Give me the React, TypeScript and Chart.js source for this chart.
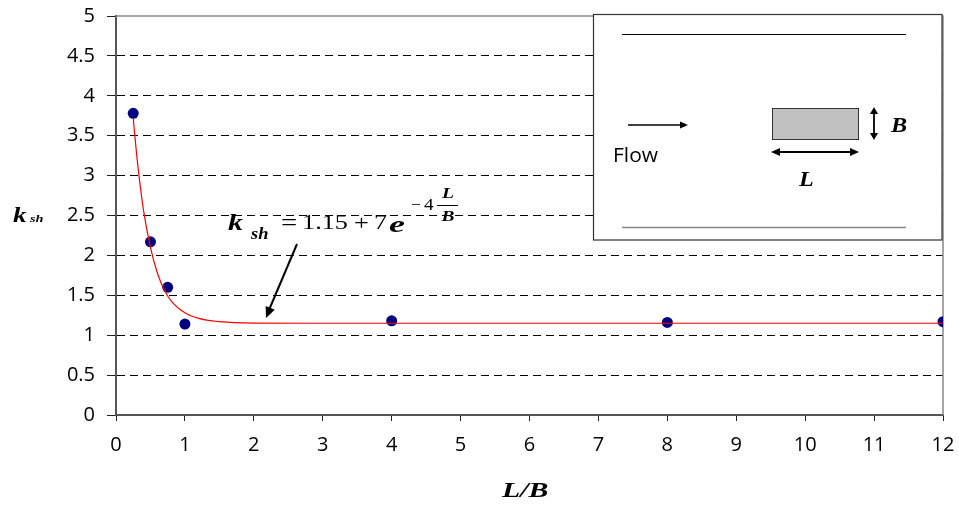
import React, { useEffect, useRef } from "react";
import { Chart, registerables } from "chart.js";

Chart.register(...registerables);

// Measured points (L/B, k_sh)
const pointX = [0.25, 0.5, 0.75, 1, 4, 8, 12];
const pointY = [3.78, 2.17, 1.6, 1.14, 1.18, 1.16, 1.17];

// Fitted curve
const curveX = [0.25, 0.3, 0.35, 0.4, 0.5, 0.6, 0.7, 0.8, 1.0, 1.2, 1.5, 2.0, 3.0, 12];
const curveY = [3.72, 3.26, 2.88, 2.56, 2.1, 1.78, 1.57, 1.43, 1.28, 1.21, 1.17, 1.152, 1.15, 1.15];

const yTicks = [0, 0.5, 1, 1.5, 2, 2.5, 3, 3.5, 4, 4.5, 5];
const xTicks = [0, 1, 2, 3, 4, 5, 6, 7, 8, 9, 10, 11, 12];

const SERIF = "'Liberation Serif', 'Times New Roman', serif";
const SANS = "'Open Sans', 'Noto Sans', Arial, sans-serif";

function arrowHead(ctx: CanvasRenderingContext2D, x1: number, y1: number, x2: number, y2: number, len: number, w: number) {
  const a = Math.atan2(y2 - y1, x2 - x1);
  ctx.beginPath();
  ctx.moveTo(x2, y2);
  ctx.lineTo(x2 - len * Math.cos(a) + w * Math.sin(a), y2 - len * Math.sin(a) - w * Math.cos(a));
  ctx.lineTo(x2 - len * Math.cos(a) - w * Math.sin(a), y2 - len * Math.sin(a) + w * Math.cos(a));
  ctx.closePath();
  ctx.fill();
}

function txt(ctx: CanvasRenderingContext2D, t: string, x: number, y: number, font: string, sx = 1, align: CanvasTextAlign = "left") {
  ctx.save();
  ctx.font = font;
  ctx.textAlign = align;
  ctx.translate(x, y);
  ctx.scale(sx, 1);
  ctx.fillText(t, 0, 0);
  ctx.restore();
}

const borderPlugin = {
  id: "plotBorder",
  beforeDatasetsDraw(chart: any) {
    const { ctx, chartArea } = chart;
    ctx.save();
    ctx.setLineDash([]);
    ctx.strokeStyle = "#888";
    ctx.lineWidth = 1.5;
    ctx.beginPath();
    ctx.moveTo(chartArea.left, chartArea.top);
    ctx.lineTo(chartArea.right, chartArea.top);
    ctx.lineTo(chartArea.right, chartArea.bottom);
    ctx.stroke();
    ctx.restore();
  },
};

const decorPlugin = {
  id: "decor",
  afterDraw(chart: any) {
    const ctx: CanvasRenderingContext2D = chart.ctx;
    ctx.save();
    ctx.setLineDash([]);
    ctx.fillStyle = "#000";
    ctx.textBaseline = "alphabetic";

    // Y axis title k_sh
    txt(ctx, "k", 13, 222, `bold italic 20px ${SERIF}`, 1.35);
    txt(ctx, "sh", 30, 222, `bold italic 11px ${SERIF}`, 1.3);

    // X axis title
    txt(ctx, "L/B", 502, 497, `bold italic 21px ${SERIF}`, 1.42);

    // Equation
    txt(ctx, "k", 228, 230, `bold italic 23px ${SERIF}`, 1.3);
    txt(ctx, "sh", 251, 239, `bold italic 16px ${SERIF}`, 1.15);
    txt(ctx, "=", 281, 230, `23px ${SERIF}`, 1.25);
    txt(ctx, "1.15", 302, 229, `21px ${SERIF}`, 1.25);
    txt(ctx, "+", 354, 230, `22px ${SERIF}`, 1.2);
    txt(ctx, "7", 374, 229, `21px ${SERIF}`, 1.25);
    txt(ctx, "e", 389, 232, `bold italic 24px ${SERIF}`, 1.5);
    txt(ctx, "\u2212", 411, 210, `16px ${SERIF}`, 1.1);
    txt(ctx, "4", 424, 210, `16px ${SERIF}`, 1.2);
    txt(ctx, "L", 448, 198, `bold italic 15px ${SERIF}`, 1.3, "center");
    txt(ctx, "B", 448, 221, `bold italic 15px ${SERIF}`, 1.3, "center");
    ctx.strokeStyle = "#000";
    ctx.lineWidth = 1;
    ctx.beginPath();
    ctx.moveTo(437, 205.5);
    ctx.lineTo(458, 205.5);
    ctx.stroke();

    // Annotation arrow
    ctx.lineWidth = 2;
    ctx.beginPath();
    ctx.moveTo(297, 244);
    ctx.lineTo(269, 310);
    ctx.stroke();
    arrowHead(ctx, 297, 244, 266, 318, 11, 5);

    // Inset box
    ctx.fillStyle = "#fff";
    ctx.fillRect(593, 14, 349, 226);
    ctx.strokeStyle = "#333";
    ctx.lineWidth = 1.2;
    ctx.strokeRect(593.5, 14.5, 348.5, 225.5);

    ctx.strokeStyle = "#000";
    ctx.lineWidth = 1;
    ctx.beginPath();
    ctx.moveTo(622, 34.5);
    ctx.lineTo(906, 34.5);
    ctx.stroke();
    ctx.strokeStyle = "#888";
    ctx.lineWidth = 1.5;
    ctx.beginPath();
    ctx.moveTo(622, 227.5);
    ctx.lineTo(906, 227.5);
    ctx.stroke();

    // block
    ctx.fillStyle = "#c0c0c0";
    ctx.fillRect(772, 108, 86, 31);
    ctx.strokeStyle = "#333";
    ctx.lineWidth = 1;
    ctx.strokeRect(772.5, 108.5, 86, 31);

    // flow arrow
    ctx.fillStyle = "#000";
    ctx.strokeStyle = "#000";
    ctx.lineWidth = 1.3;
    ctx.beginPath();
    ctx.moveTo(628, 125);
    ctx.lineTo(682, 125);
    ctx.stroke();
    arrowHead(ctx, 628, 125, 688, 125, 8, 3.5);

    txt(ctx, "Flow", 613, 162, `20px ${SANS}`, 1.05);

    // vertical double arrow (B)
    ctx.lineWidth = 1.8;
    ctx.beginPath();
    ctx.moveTo(874, 113);
    ctx.lineTo(874, 134);
    ctx.stroke();
    arrowHead(ctx, 874, 120, 874, 107, 7, 4);
    arrowHead(ctx, 874, 127, 874, 140, 7, 4);

    // horizontal double arrow (L)
    ctx.beginPath();
    ctx.moveTo(778, 152);
    ctx.lineTo(852, 152);
    ctx.stroke();
    arrowHead(ctx, 790, 152, 771, 152, 9, 4);
    arrowHead(ctx, 840, 152, 859, 152, 9, 4);

    txt(ctx, "B", 891, 132, `bold italic 21px ${SERIF}`, 1.15);
    txt(ctx, "L", 799, 186, `bold italic 21px ${SERIF}`, 1.15);

    ctx.restore();
  },
};

export default function App() {
  const ref = useRef<HTMLCanvasElement | null>(null);

  useEffect(() => {
    document.body.style.margin = "0";
    if (!ref.current) return;
    const chart = new Chart(ref.current, {
      type: "scatter",
      data: {
        datasets: [
          {
            label: "fit",
            data: curveX.map((x, i) => ({ x, y: curveY[i] })),
            showLine: true,
            borderColor: "#ff0000",
            borderWidth: 1.2,
            pointRadius: 0,
            cubicInterpolationMode: "monotone",
            fill: false,
          },
          {
            label: "data",
            data: pointX.map((x, i) => ({ x, y: pointY[i] })),
            showLine: false,
            backgroundColor: "#000080",
            borderColor: "#000080",
            pointRadius: 5.5,
            pointBorderWidth: 0,
          },
        ],
      },
      plugins: [borderPlugin, decorPlugin],
      options: {
        animation: false,
        responsive: false,
        devicePixelRatio: 1,
        layout: { padding: { left: 0, top: 16, right: 16, bottom: 0 } },
        plugins: { legend: { display: false }, tooltip: { enabled: false } },
        scales: {
          x: {
            type: "linear",
            min: 0,
            max: 12,
            afterFit: (s: any) => {
              s.height = 91;
              s.paddingLeft = 0;
              s.paddingRight = 0;
            },
            afterBuildTicks: (s: any) => {
              s.ticks = xTicks.map((v) => ({ value: v }));
            },
            ticks: {
              stepSize: 1,
              color: "#000",
              padding: 12,
              maxRotation: 0,
              font: { family: SANS, size: 20 },
              callback: (v: any) => String(v),
            },
            grid: {
              drawOnChartArea: false,
              drawTicks: true,
              tickLength: 6,
              tickColor: "#222",
              tickWidth: 1,
            },
            border: { color: "#555", width: 2 },
          },
          y: {
            type: "linear",
            min: 0,
            max: 5,
            afterFit: (s: any) => {
              s.width = 116;
              s.paddingTop = 0;
              s.paddingBottom = 0;
            },
            afterBuildTicks: (s: any) => {
              s.ticks = yTicks.map((v) => ({ value: v }));
            },
            ticks: {
              stepSize: 0.5,
              color: "#000",
              padding: 12,
              font: { family: SANS, size: 20 },
              callback: (v: any) => String(v),
            },
            grid: {
              drawTicks: true,
              tickLength: 9,
              tickColor: "#222",
              tickWidth: 1,
              tickBorderDash: [],
              color: (c: any) =>
                c.tick && (c.tick.value === 0 || c.tick.value === 5) ? "rgba(0,0,0,0)" : "#000",
              lineWidth: 1,
            },
            border: { color: "#555", width: 2, dash: [8, 5] },
          },
        },
      },
    } as any);
    return () => chart.destroy();
  }, []);

  return <canvas ref={ref} width={959} height={506} style={{ display: "block" }} />;
}
